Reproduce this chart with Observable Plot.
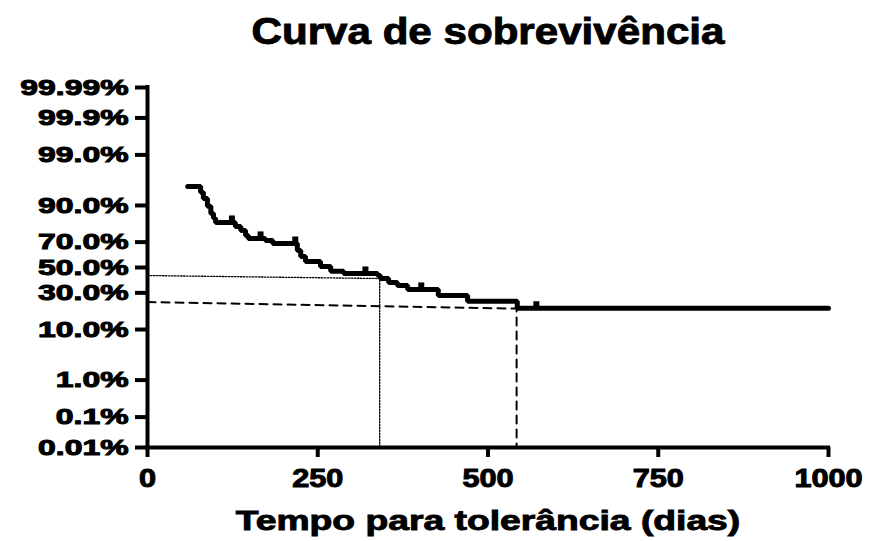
<!DOCTYPE html>
<html>
<head>
<meta charset="utf-8">
<script src="https://cdn.jsdelivr.net/npm/d3@7"></script>
<script src="https://cdn.jsdelivr.net/npm/@observablehq/plot@0.6"></script>
<style>
  html, body { margin: 0; padding: 0; background: #fff; }
  #wrap { position: relative; width: 869px; height: 541px; overflow: hidden; font-family: "Liberation Sans", Arial, sans-serif; font-weight: bold; color: #000; }
  #chart { position: absolute; left: 0; top: 0; }
  .lbl { position: absolute; white-space: nowrap; line-height: 1; transform-origin: 50% 50%; -webkit-text-stroke: 0.9px #000; }
  #title { left: 488px; top: 14px; font-size: 36px; transform: translateX(-50%) scaleX(1.17); }
  #xlabel { left: 488px; top: 508px; font-size: 27px; transform: translateX(-50%) scaleX(1.38); }
  #chart g[aria-label="y-axis tick label"] text,
  #chart g[aria-label="x-axis tick label"] text { paint-order: stroke; stroke: #000; stroke-width: 1px; }
</style>
</head>
<body>
<div id="wrap">
  <div id="chart"></div>
  <div class="lbl" id="title">Curva de sobrevivência</div>
  <div class="lbl" id="xlabel">Tempo para tolerância (dias)</div>
</div>
<script>
// Kaplan-Meier step curve (days, survival fraction)
const times    = [59, 78, 82, 88, 93, 97, 100, 129, 137, 144, 148, 173, 184, 220, 225, 232, 254, 269, 288, 338, 342, 354, 367, 382, 427, 470, 543, 1000];
const survival = [0.953, 0.940, 0.923, 0.897, 0.868, 0.845, 0.824, 0.802, 0.778, 0.746, 0.726, 0.712, 0.690, 0.638, 0.590, 0.549, 0.508, 0.469, 0.451, 0.434, 0.410, 0.378, 0.355, 0.325, 0.281, 0.243, 0.200, 0.200];
// censored observations
const censorTimes = [124, 166, 217, 320, 402, 571];
const censorSurv  = [0.824, 0.726, 0.690, 0.451, 0.325, 0.200];
// reference lines
const dottedT = [0, 341, 341];
const dottedS = [0.434, 0.410, 0.0001];
const dashedT = [0, 542, 542];
const dashedS = [0.238, 0.198, 0.0001];
// axes
const xTicks = [0, 250, 500, 750, 1000];
const yTickValues = [0.0001, 0.001, 0.01, 0.1, 0.3, 0.5, 0.7, 0.9, 0.99, 0.999, 0.9999];
const yTickLabels = ["0.01%", "0.1%", "1.0%", "10.0%", "30.0%", "50.0%", "70.0%", "90.0%", "99.0%", "99.9%", "99.99%"];

// probability (probit) axis transform: inverse normal CDF (Acklam)
function probit(p) {
  const a=[-3.969683028665376e+01,2.209460984245205e+02,-2.759285104469687e+02,1.383577518672690e+02,-3.066479806614716e+01,2.506628277459239e+00];
  const b=[-5.447609879822406e+01,1.615858368580409e+02,-1.556989798598866e+02,6.680131188771972e+01,-1.328068155288572e+01];
  const c=[-7.784894002430293e-03,-3.223964580411365e-01,-2.400758277161838e+00,-2.549732539343734e+00,4.374664141464968e+00,2.938163982698783e+00];
  const d=[7.784695709041462e-03,3.224671290700398e-01,2.445134137142996e+00,3.754408661907416e+00];
  const pl = 0.02425, ph = 1 - pl;
  let q, r;
  if (p < pl) { q = Math.sqrt(-2*Math.log(p)); return (((((c[0]*q+c[1])*q+c[2])*q+c[3])*q+c[4])*q+c[5])/((((d[0]*q+d[1])*q+d[2])*q+d[3])*q+1); }
  if (p <= ph) { q = p - 0.5; r = q*q; return (((((a[0]*r+a[1])*r+a[2])*r+a[3])*r+a[4])*r+a[5])*q/(((((b[0]*r+b[1])*r+b[2])*r+b[3])*r+b[4])*r+1); }
  q = Math.sqrt(-2*Math.log(1-p)); return -(((((c[0]*q+c[1])*q+c[2])*q+c[3])*q+c[4])*q+c[5])/((((d[0]*q+d[1])*q+d[2])*q+d[3])*q+1);
}

const km = times.map((t, i) => ({t, s: survival[i]}));
const cens = censorTimes.map((t, i) => ({t, s: censorSurv[i]}));
const dotted = dottedT.map((t, i) => ({t, s: dottedS[i]}));
const dashed = dashedT.map((t, i) => ({t, s: dashedS[i]}));
const yTickPos = yTickValues.map(probit);
const labelMap = new Map(yTickPos.map((v, i) => [v, yTickLabels[i]]));

const censorSymbol = { draw(ctx, size) { ctx.rect(-3, -7, 6, 7); } };

const chart = Plot.plot({
  width: 869,
  height: 541,
  marginLeft: 147,
  marginRight: 41,
  marginTop: 87,
  marginBottom: 94,
  style: { fontFamily: "Liberation Sans, Arial, sans-serif", fontWeight: "bold", fontSize: "26px", color: "#000", background: "#fff" },
  x: { domain: [0, 1000] },
  y: { domain: [probit(0.0001), probit(0.9999)] },
  marks: [
    Plot.line(dotted, { x: "t", y: d => probit(d.s), stroke: "#000", strokeWidth: 1.3, strokeDasharray: "1.5,1.5" }),
    Plot.line(dashed, { x: "t", y: d => probit(d.s), stroke: "#000", strokeWidth: 2, strokeDasharray: "8,6" }),
    Plot.line(km, { x: "t", y: d => probit(d.s), curve: "step-after", stroke: "#000", strokeWidth: 5, strokeLinejoin: "miter" }),
    Plot.dot(cens, { x: "t", y: d => probit(d.s), symbol: censorSymbol, fill: "#000", stroke: "none", r: 3 }),
    Plot.axisY(yTickPos, { tickSize: 12, tickPadding: 7, strokeWidth: 4, fontSize: 22, fontWeight: "bold", tickFormat: d => labelMap.get(d), label: null }),
    Plot.axisX(xTicks, { tickSize: 10, tickPadding: 11, strokeWidth: 4, fontSize: 26, fontWeight: "bold", tickFormat: d => String(d), label: null }),
    Plot.ruleX([0], { stroke: "#000", strokeWidth: 4, strokeLinecap: "square" }),
    Plot.ruleY([probit(0.0001)], { stroke: "#000", strokeWidth: 4, strokeLinecap: "square" })
  ]
});
document.getElementById("chart").appendChild(chart);

function stretch(selector, sx) {
  chart.querySelectorAll(selector).forEach(el => {
    const t = el.getAttribute("transform") || "";
    const xa = el.getAttribute("x");
    let pre = t;
    if (xa != null && xa !== "" && !isNaN(+xa)) { el.removeAttribute("x"); pre = `${t} translate(${xa},0)`; }
    el.setAttribute("transform", `${pre} scale(${sx},1)`);
  });
}
stretch('g[aria-label="y-axis tick label"] text', 1.45);
stretch('g[aria-label="x-axis tick label"] text', 1.18);
</script>
</body>
</html>
